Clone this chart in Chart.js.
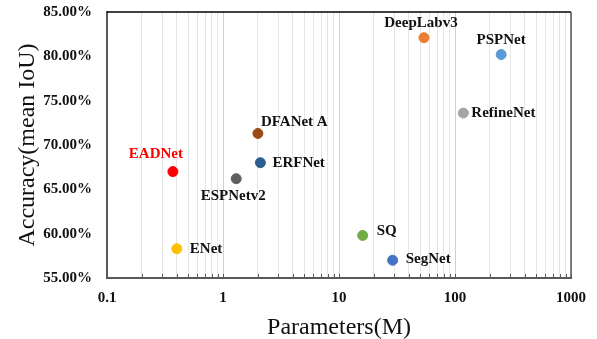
<!DOCTYPE html>
<html>
<head>
<meta charset="utf-8">
<script src="https://cdn.jsdelivr.net/npm/chart.js@4/dist/chart.umd.min.js"></script>
<style>
  html, body { margin: 0; padding: 0; background: #fff; }
  #wrap { width: 597px; height: 339px; }
</style>
</head>
<body>
<div id="wrap"><canvas id="Acc" width="597" height="339"></canvas></div>
<script>
// data
const models = ['EADNet', 'DFANet A', 'ERFNet', 'ESPNetv2', 'ENet', 'SQ', 'SegNet', 'DeepLabv3', 'PSPNet', 'RefineNet'];
const params = [0.37, 2.0, 2.1, 1.3, 0.4, 16, 29, 54, 250, 118];
const miou = [0.670, 0.713, 0.680, 0.662, 0.583, 0.598, 0.570, 0.821, 0.802, 0.736];
const xTickLabels = ['0.1', '1', '10', '100', '1000'];
const yTicks = [0.55, 0.60, 0.65, 0.70, 0.75, 0.80, 0.85];

// styling
const dotColors = ['#ff0000', '#9c4a14', '#2c5f8f', '#5f5f5f', '#ffc000', '#70ad47', '#4472c4', '#ed7d31', '#5b9bd5', '#a5a5a5'];
// label placement: dx, dy from dot, text align
const labelPos = [
  [-17, -17, 'center'], [3, -11, 'left'], [12, 0, 'left'], [-3, 17, 'center'], [13, 0, 'left'],
  [14, -4, 'left'], [13, -1, 'left'], [-3, -15, 'center'], [0, -14, 'center'], [8, 0, 'left']
];
const serif = "'Liberation Serif', 'Times New Roman', serif";

const Acc = document.getElementById('Acc').getContext('2d');

// minor tick positions for log axis (1..9 x 10^n)
function logTicks() {
  const t = [];
  for (let e = -1; e < 3; e++) {
    for (let s = 1; s < 10; s++) t.push({ value: s * Math.pow(10, e) });
  }
  t.push({ value: 1000 });
  return t;
}
function isMajor(v) {
  const l = Math.log10(v);
  return Math.abs(l - Math.round(l)) < 1e-9;
}

const extras = {
  id: 'extras',
  beforeDatasetsDraw(chart) {
    const c = chart.ctx, a = chart.chartArea, x = chart.scales.x;
    c.save();
    // small ticks on the bottom axis, pointing in
    c.strokeStyle = '#595959';
    c.lineWidth = 1;
    x.ticks.forEach(t => {
      const px = Math.round(x.getPixelForValue(t.value)) + 0.5;
      c.beginPath();
      c.moveTo(px, a.bottom);
      c.lineTo(px, a.bottom - 4);
      c.stroke();
    });
    // box round the plot
    c.strokeStyle = '#000';
    c.lineWidth = 1.5;
    c.beginPath();
    c.moveTo(a.left, a.top);
    c.lineTo(a.right, a.top);
    c.stroke();
    c.strokeStyle = '#595959';
    c.beginPath();
    c.moveTo(a.right, a.top);
    c.lineTo(a.right, a.bottom);
    c.stroke();
    c.restore();
  },
  afterDatasetsDraw(chart) {
    const c = chart.ctx;
    const meta = chart.getDatasetMeta(0);
    c.save();
    c.font = 'bold 15px ' + serif;
    c.textBaseline = 'middle';
    meta.data.forEach((pt, i) => {
      const p = labelPos[i];
      c.textAlign = p[2];
      c.fillStyle = i === 0 ? '#ff0000' : '#111';
      c.fillText(models[i], pt.x + p[0], pt.y + p[1]);
    });
    c.restore();
  }
};

var myChart = new Chart(Acc, {
  type: 'scatter',
  data: {
    datasets: [{
      label: 'models',
      data: params.map((p, i) => ({ x: p, y: miou[i] })),
      pointBackgroundColor: dotColors,
      pointBorderColor: dotColors,
      pointRadius: 5,
      pointHoverRadius: 5
    }]
  },
  options: {
    responsive: false,
    animation: false,
    layout: { padding: { top: 12, right: 25, left: 0, bottom: 0 } },
    plugins: { legend: { display: false }, tooltip: { enabled: false } },
    scales: {
      x: {
        type: 'logarithmic',
        min: 0.1,
        max: 1000,
        afterBuildTicks: s => { s.ticks = logTicks(); },
        afterFit: s => { s.height = 61; },
        ticks: {
          autoSkip: false,
          maxRotation: 0,
          padding: 11,
          color: '#111',
          font: { family: serif, size: 15, weight: 'bold' },
          callback: v => isMajor(v) ? xTickLabels[Math.round(Math.log10(v)) + 1] : ''
        },
        grid: {
          drawTicks: false,
          color: ctx => (ctx.tick && isMajor(ctx.tick.value)) ? '#d0d0d0' : '#e6e6e6',
          lineWidth: 1
        },
        border: { color: '#595959', width: 2 },
        title: {
          display: true,
          text: 'Parameters(M)',
          color: '#111',
          font: { family: serif, size: 24 },
          padding: { top: 12, bottom: -3 }
        }
      },
      y: {
        min: 0.55,
        max: 0.85,
        afterBuildTicks: s => { s.ticks = yTicks.map(v => ({ value: v })); },
        afterFit: s => { s.width = 107; s.paddingTop = 2; s.paddingBottom = 2; },
        ticks: {
          padding: 15,
          color: '#111',
          font: { family: serif, size: 15, weight: 'bold' },
          callback: v => (v * 100).toFixed(2) + '%'
        },
        grid: { display: false, drawTicks: false },
        border: { color: '#595959', width: 2 },
        title: {
          display: true,
          text: 'Accuracy(mean IoU)',
          color: '#111',
          font: { family: serif, size: 24 },
          padding: { top: 13, bottom: 4 }
        }
      }
    }
  },
  plugins: [extras]
});
</script>
</body>
</html>
